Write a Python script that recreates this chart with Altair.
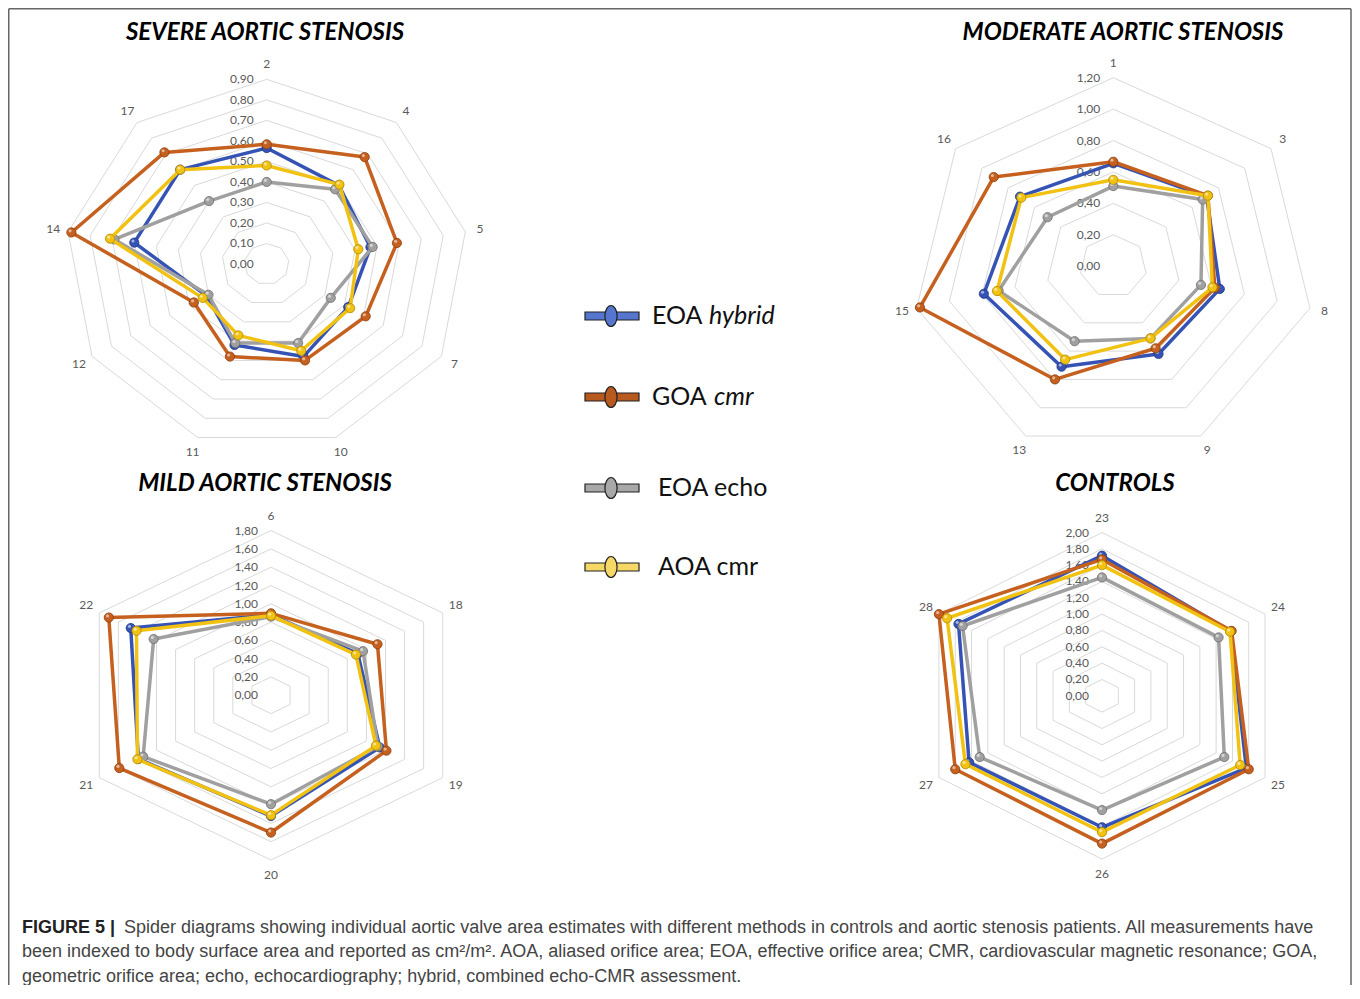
import math
import altair as alt
import pandas as pd

# ---------------- data ----------------
SERIES = ["EOA hybrid", "GOA cmr", "EOA echo", "AOA cmr"]

SEVERE_CATS = ["2", "4", "5", "7", "10", "11", "12", "14", "17"]
SEVERE_EOA_HYBRID = [0.565, 0.50, 0.47, 0.42, 0.48, 0.42, 0.31, 0.60, 0.60]
SEVERE_GOA_CMR = [0.583, 0.68, 0.59, 0.51, 0.50, 0.48, 0.375, 0.885, 0.71]
SEVERE_EOA_ECHO = [0.40, 0.475, 0.48, 0.33, 0.41, 0.41, 0.30, 0.69, 0.40]
SEVERE_AOA_CMR = [0.48, 0.505, 0.415, 0.43, 0.45, 0.37, 0.33, 0.71, 0.60]

MODERATE_CATS = ["1", "3", "8", "9", "13", "15", "16"]
MODERATE_EOA_HYBRID = [0.655, 0.71, 0.65, 0.62, 0.71, 0.79, 0.71]
MODERATE_GOA_CMR = [0.665, 0.72, 0.62, 0.58, 0.80, 1.18, 0.91]
MODERATE_EOA_ECHO = [0.51, 0.68, 0.535, 0.51, 0.53, 0.70, 0.50]
MODERATE_AOA_CMR = [0.55, 0.72, 0.605, 0.51, 0.66, 0.71, 0.70]

MILD_CATS = ["6", "18", "19", "20", "21", "22"]
MILD_EOA_HYBRID = [0.88, 0.91, 1.14, 1.32, 1.39, 1.47]
MILD_GOA_CMR = [0.896, 1.116, 1.21, 1.50, 1.59, 1.70]
MILD_EOA_ECHO = [0.86, 0.965, 1.12, 1.19, 1.34, 1.23]
MILD_AOA_CMR = [0.87, 0.89, 1.10, 1.31, 1.40, 1.41]

CONTROLS_CATS = ["23", "24", "25", "26", "27", "28"]
CONTROLS_EOA_HYBRID = [1.716, 1.58, 1.77, 1.61, 1.63, 1.76]
CONTROLS_GOA_CMR = [1.67, 1.59, 1.80, 1.81, 1.80, 2.00]
CONTROLS_EOA_ECHO = [1.45, 1.43, 1.50, 1.40, 1.50, 1.71]
CONTROLS_AOA_CMR = [1.60, 1.57, 1.695, 1.67, 1.675, 1.90]

TITLES = ["SEVERE AORTIC STENOSIS", "MODERATE AORTIC STENOSIS",
          "MILD AORTIC STENOSIS", "CONTROLS"]
AXIS_MAX = [0.9, 1.2, 1.8, 2.0]
AXIS_STEP = [0.1, 0.2, 0.2, 0.2]

CAPTION_BOLD = "FIGURE 5 |"
CAPTION_LINES = [
    "Spider diagrams showing individual aortic valve area estimates with different methods in controls and aortic stenosis patients. All measurements have",
    "been indexed to body surface area and reported as cm\u00b2/m\u00b2. AOA, aliased orifice area; EOA, effective orifice area; CMR, cardiovascular magnetic resonance; GOA,",
    "geometric orifice area; echo, echocardiography; hybrid, combined echo-CMR assessment.",
]

# ---------------- style / layout ----------------
LINE_COLORS = ["#3553b5", "#c5601f", "#a0a0a0", "#f2c213"]
POINT_STROKE = ["#1f3680", "#8a3d0c", "#6e6e6e", "#b08a00"]
LEGEND_FILL = ["#5675cf", "#b8591f", "#a8a8a8", "#f6d867"]
GRID_COLOR = "#d9d9d9"
LABEL_COLOR = "#595959"
FONT = "Lato"

W, H = 1344, 977
# panel centre and radii (pixels) for each panel
PANEL_GEOM = [
    dict(cx=258.7, cy=256.0, rx=201.7, ry=184.7, tx=257, ty=25),
    dict(cx=1105.3, cy=258.2, rx=201.7, ry=188.5, tx=1115, ty=25),
    dict(cx=263.0, cy=687.3, rx=198.3, ry=164.7, tx=257, ty=476),
    dict(cx=1094.0, cy=687.8, rx=188.3, ry=163.3, tx=1107, ty=476),
]

panel_data = [
    (SEVERE_CATS, [SEVERE_EOA_HYBRID, SEVERE_GOA_CMR, SEVERE_EOA_ECHO, SEVERE_AOA_CMR]),
    (MODERATE_CATS, [MODERATE_EOA_HYBRID, MODERATE_GOA_CMR, MODERATE_EOA_ECHO, MODERATE_AOA_CMR]),
    (MILD_CATS, [MILD_EOA_HYBRID, MILD_GOA_CMR, MILD_EOA_ECHO, MILD_AOA_CMR]),
    (CONTROLS_CATS, [CONTROLS_EOA_HYBRID, CONTROLS_GOA_CMR, CONTROLS_EOA_ECHO, CONTROLS_AOA_CMR]),
]


def fmt(v):
    return f"{v:.2f}".replace(".", ",")


def make_panel(i):
    cats, vals = panel_data[i]
    g = PANEL_GEOM[i]
    M = AXIS_MAX[i]
    step = AXIS_STEP[i]
    n = len(cats)
    ang = [2 * math.pi * k / n for k in range(n)]

    xs = alt.Scale(domain=[-M, M], range=[g["cx"] - g["rx"], g["cx"] + g["rx"]], nice=False, zero=False)
    ys = alt.Scale(domain=[-M, M], range=[g["cy"] + g["ry"], g["cy"] - g["ry"]], nice=False, zero=False)

    def X(f="x"):
        return alt.X(f"{f}:Q", scale=xs, axis=None)

    def Y(f="y"):
        return alt.Y(f"{f}:Q", scale=ys, axis=None)

    nlev = int(round(M / step))
    levels = [round(step * j, 4) for j in range(nlev + 1)]

    rings = []
    for L in levels[1:]:
        for k in range(n + 1):
            a = ang[k % n]
            rings.append(dict(ring=L, idx=k, x=L * math.sin(a), y=L * math.cos(a)))
    rings = pd.DataFrame(rings)

    layers = [
        alt.Chart(rings).mark_line(color=GRID_COLOR, strokeWidth=1).encode(
            x=X(), y=Y(), detail="ring:N", order="idx:Q")
    ]

    ticks = pd.DataFrame([dict(x=0.0, y=L, label=fmt(L)) for L in levels])
    layers.append(
        alt.Chart(ticks).mark_text(align="right", baseline="middle", dx=-13, fontSize=12,
                                   font=FONT, color=LABEL_COLOR).encode(x=X(), y=Y(), text="label:N"))

    off = 15.0
    catlab = pd.DataFrame([
        dict(x=math.sin(a) * (M + off * M / g["rx"]), y=math.cos(a) * (M + off * M / g["ry"]), label=c)
        for c, a in zip(cats, ang)])
    layers.append(
        alt.Chart(catlab).mark_text(align="center", baseline="middle", fontSize=12,
                                    font=FONT, color=LABEL_COLOR).encode(x=X(), y=Y(), text="label:N"))

    for s, sname in enumerate(SERIES):
        v = vals[s]
        rows = []
        for k in range(n + 1):
            a = ang[k % n]
            rows.append(dict(series=sname, idx=k, cat=cats[k % n], value=v[k % n],
                             x=v[k % n] * math.sin(a), y=v[k % n] * math.cos(a)))
        df = pd.DataFrame(rows)
        layers.append(
            alt.Chart(df).mark_line(color=LINE_COLORS[s], strokeWidth=3.5, strokeJoin="round").encode(
                x=X(), y=Y(), order="idx:Q"))
        pts = df[df.idx < n]
        layers.append(
            alt.Chart(pts).mark_point(filled=True, fill=LINE_COLORS[s], stroke=POINT_STROKE[s],
                                      strokeWidth=0.8, size=85, opacity=1, shape="circle").encode(
                x=X(), y=Y()))
        layers.append(
            alt.Chart(pts).mark_point(filled=True, color="white", size=10, opacity=0.55,
                                      xOffset=-1.3, yOffset=-1.6, shape="circle").encode(
                x=X(), y=Y()))

    return alt.layer(*layers)


panels = [make_panel(i) for i in range(4)]

PX = alt.X("x:Q", scale=None, axis=None)
PY = alt.Y("y:Q", scale=None, axis=None)

# titles
title_df = pd.DataFrame([dict(x=g["tx"], y=g["ty"], label=t) for g, t in zip(PANEL_GEOM, TITLES)])
titles = alt.Chart(title_df).mark_text(font=FONT, fontSize=24, fontWeight="bold", fontStyle="italic",
                                       color="#000000", align="center", baseline="middle").encode(
    x=PX, y=PY, text="label:N")

# legend
LEG_Y = [308, 389, 480, 559]
LEG_MAIN = ["EOA", "GOA", "EOA echo", "AOA cmr"]
LEG_MAIN_X = [644, 644, 650, 650]
LEG_IT = ["hybrid", "cmr", "", ""]
LEG_IT_X = [701, 706, 0, 0]

leg_bar = pd.DataFrame([dict(x=577, x2=631, y=yy - 4, y2=yy + 4, series=s) for yy, s in zip(LEG_Y, SERIES)])
legend_bars = alt.Chart(leg_bar).mark_rect(stroke="#222222", strokeWidth=1.2).encode(
    x=PX, x2="x2:Q", y=PY, y2="y2:Q",
    fill=alt.Fill("series:N", scale=alt.Scale(domain=SERIES, range=LEGEND_FILL), legend=None))
leg_el = pd.DataFrame([dict(x=603, y=yy, series=s) for yy, s in zip(LEG_Y, SERIES)])
ELLIPSE = "M0,-1A0.58,1 0 1,1 0,1A0.58,1 0 1,1 0,-1Z"
legend_ell = alt.Chart(leg_el).mark_point(shape=ELLIPSE, size=441, filled=True, stroke="#222222",
                                          strokeWidth=1.2, opacity=1).encode(
    x=PX, y=PY,
    fill=alt.Fill("series:N", scale=alt.Scale(domain=SERIES, range=LEGEND_FILL), legend=None))
leg_txt = pd.DataFrame([dict(x=xx, y=yy, label=t) for xx, yy, t in zip(LEG_MAIN_X, LEG_Y, LEG_MAIN)])
legend_txt = alt.Chart(leg_txt).mark_text(font=FONT, fontSize=25, color="#111111", align="left",
                                          baseline="middle").encode(x=PX, y=PY, text="label:N")
leg_it = pd.DataFrame([dict(x=xx, y=yy, label=t) for xx, yy, t in zip(LEG_IT_X, LEG_Y, LEG_IT) if t])
legend_it = alt.Chart(leg_it).mark_text(font=FONT, fontSize=25, fontStyle="italic", color="#111111",
                                        align="left", baseline="middle").encode(x=PX, y=PY, text="label:N")

# caption
CAP_Y = [920, 944, 969]
cap_bold = alt.Chart(pd.DataFrame([dict(x=14, y=CAP_Y[0], label=CAPTION_BOLD)])).mark_text(
    font="Liberation Sans", fontSize=18, fontWeight="bold", color="#222222", align="left",
    baseline="middle").encode(x=PX, y=PY, text="label:N")
cap_df = pd.DataFrame([dict(x=(116 if j == 0 else 14), y=CAP_Y[j], label=t) for j, t in enumerate(CAPTION_LINES)])
cap_txt = alt.Chart(cap_df).mark_text(font="Liberation Sans", fontSize=18, color="#444444",
                                      align="left", baseline="middle").encode(x=PX, y=PY, text="label:N")

# frame
frame_df = pd.DataFrame([
    dict(x=0.75, x2=W - 1, y=0.75, y2=0.75),
    dict(x=0.75, x2=0.75, y=0.75, y2=H),
    dict(x=W - 1, x2=W - 1, y=0.75, y2=H),
])
frame = alt.Chart(frame_df).mark_rule(color="#666666", strokeWidth=1.5).encode(
    x=PX, x2="x2:Q", y=PY, y2="y2:Q")

chart = alt.layer(
    frame, *panels, titles, legend_bars, legend_ell, legend_txt, legend_it, cap_bold, cap_txt
).resolve_scale(x="independent", y="independent", fill="shared").properties(
    width=W, height=H, padding=0, background="white",
    autosize=alt.AutoSizeParams(type="none")
).configure_view(stroke=None)

chart.save("out.html", embed_options={"renderer": "svg", "actions": False})
